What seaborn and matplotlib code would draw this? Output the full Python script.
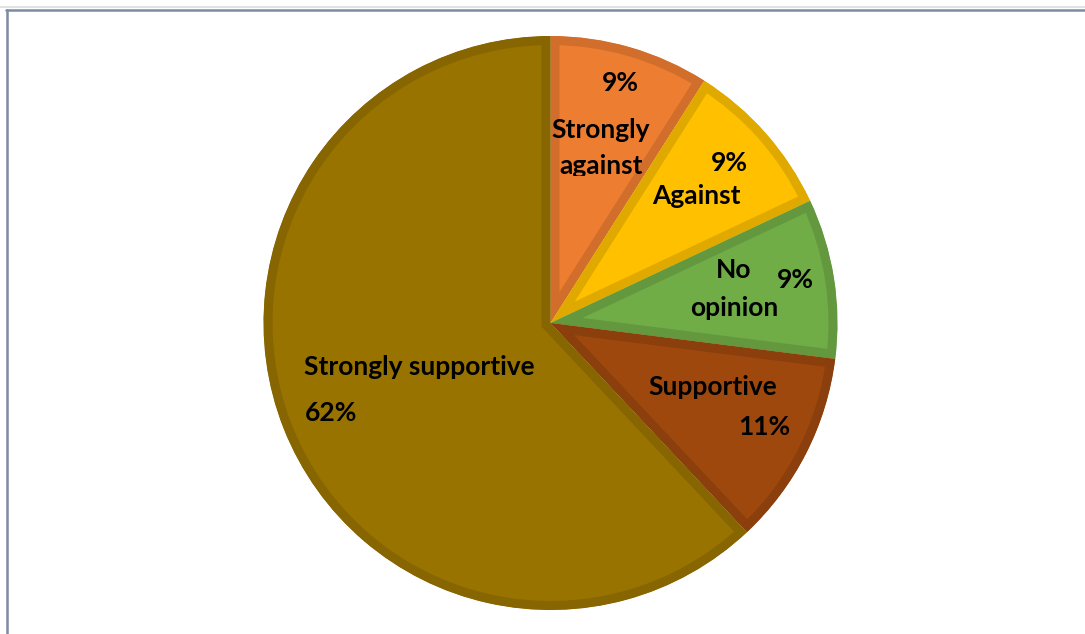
import matplotlib
matplotlib.use("Agg")
import matplotlib.pyplot as plt
import matplotlib.colors as mcolors
from matplotlib.lines import Line2D
from matplotlib.transforms import Bbox
import seaborn as sns

# data (clockwise from 12 o'clock)
categories = ['Strongly against', 'Against', 'No opinion', 'Supportive', 'Strongly supportive']
shares = [9, 9, 9, 11, 62]
colors = ['#ED7D31', '#FFC000', '#70AD47', '#9E480E', '#997300']

sns.set_theme(style="white")
plt.rcParams['font.family'] = ['Lato', 'DejaVu Sans']

W, H = 1085, 634
fig = plt.figure(figsize=(W / 100, H / 100), dpi=100)
ax = fig.add_axes([0, 0, 1, 1])

# pie centre and radius in pixel units (y measured from top)
cx, cy, R = 550.5, 323, 287

wedges, _ = ax.pie(shares, colors=colors, startangle=90, counterclock=False,
                   center=(cx, H - cy), radius=R, frame=True)
ax.set_xlim(0, W)
ax.set_ylim(0, H)
ax.set_aspect('equal')
ax.axis('off')

# darker border drawn only inside each slice
for w, c in zip(wedges, colors):
    rgb = mcolors.to_rgb(c)
    w.set_edgecolor(tuple(v * 0.88 for v in rgb))
    w.set_linewidth(13)
    w.set_clip_on(True)
    w.set_clip_path(w)

# label text and positions (pixels from top-left)
label_text = {
    'Strongly against': 'Strongly\nagainst',
    'Against': 'Against',
    'No opinion': 'No\nopinion',
    'Supportive': 'Supportive',
    'Strongly supportive': 'Strongly supportive',
}
name_pos = {
    'Strongly against': (601, 148),
    'Against': (696, 196),
    'No opinion': (734, 289),
    'Supportive': (713, 387),
    'Strongly supportive': (419, 367),
}
spacing = {
    'Strongly against': 1.55,
    'No opinion': 1.73,
}
pct_pos = {
    'Strongly against': (620, 83),
    'Against': (729, 163),
    'No opinion': (795, 280),
    'Supportive': (764, 427),
    'Strongly supportive': (331, 413),
}

for cat, val in zip(categories, shares):
    x, y = name_pos[cat]
    t = ax.text(x, H - y, label_text[cat], ha='center', va='center', fontsize=19,
                fontweight='bold', color='black', linespacing=spacing.get(cat, 1.2))
    if cat == 'Strongly against':
        # the label box cuts off the lower line, as in the original
        t.set_clip_on(True)
        t.set_clip_box(Bbox.from_extents(0, H - 176, W, H))
    px, py = pct_pos[cat]
    ax.text(px, H - py, f'{val}%', ha='center', va='center', fontsize=19,
            fontweight='bold', color='black')

# frame lines of the chart area
fig.add_artist(Line2D([0, 1], [1 - 7 / H, 1 - 7 / H], transform=fig.transFigure,
                      color='#E2E2E2', linewidth=1.5))
fig.add_artist(Line2D([6 / W, 1], [1 - 9.5 / H, 1 - 9.5 / H], transform=fig.transFigure,
                      color='#7D8BA0', linewidth=1.8))
fig.add_artist(Line2D([6.5 / W, 6.5 / W], [0, 1 - 9.5 / H], transform=fig.transFigure,
                      color='#7D8BA0', linewidth=1.8))

fig.savefig('out.png', dpi=100)
